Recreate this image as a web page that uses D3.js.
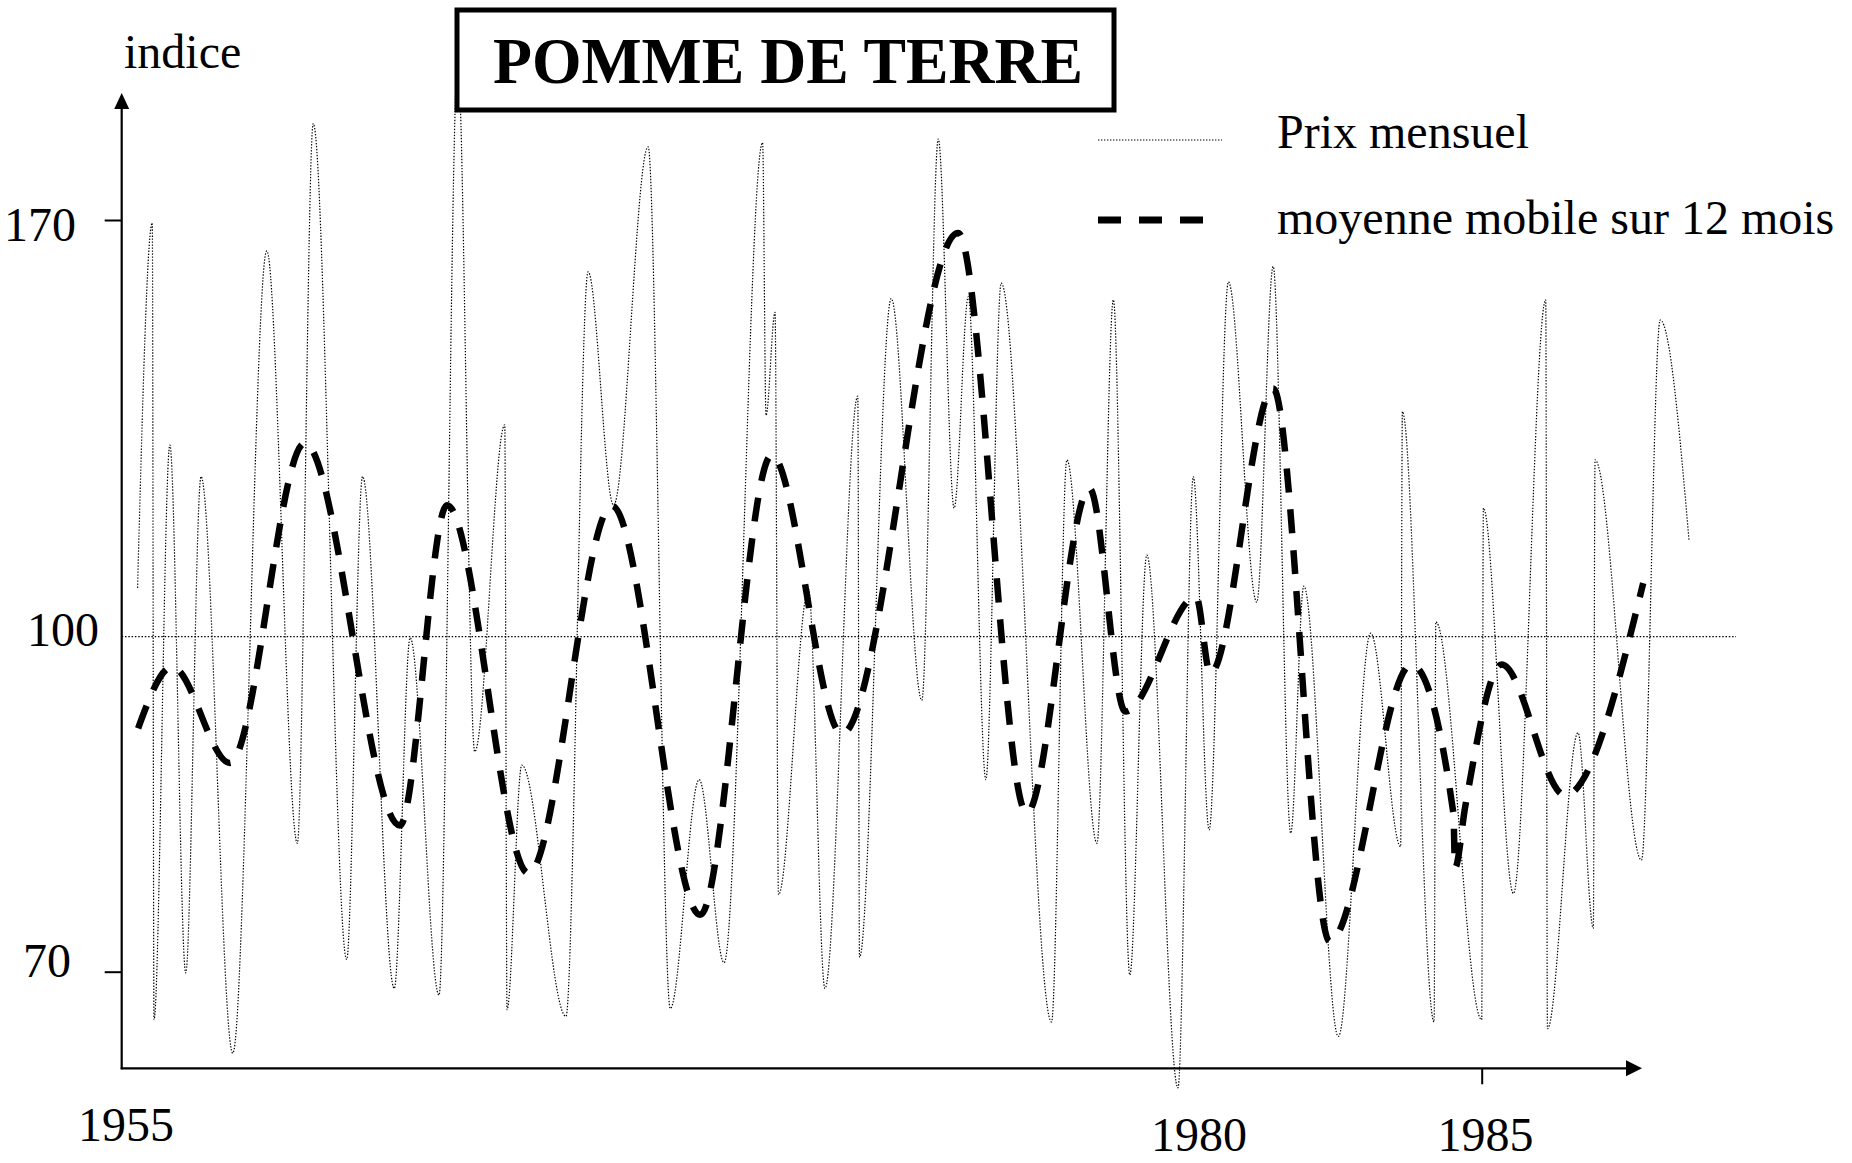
<!DOCTYPE html>
<html>
<head>
<meta charset="utf-8">
<script src="https://cdn.jsdelivr.net/npm/d3@7"></script>
<style>
  body { margin: 0; background: #fff; }
  svg { display: block; }
  text { font-family: "Liberation Serif", "Times New Roman", serif; fill: #000; }
</style>
</head>
<body>
<svg id="chart" width="1852" height="1163"></svg>
<script>
// Prix mensuel (indice) - turning points
const priceYears = [1961.28, 1961.54, 1961.57, 1961.85, 1962.13, 1962.40, 1962.96, 1963.56, 1964.10, 1964.38,
    1964.97, 1965.25, 1965.81, 1966.09, 1966.60, 1966.93, 1967.23, 1967.76, 1967.80, 1968.06,
    1968.84, 1969.23, 1969.68, 1970.29, 1970.68, 1971.19, 1971.63, 1972.31, 1972.37, 1972.53,
    1972.59, 1973.12, 1973.41, 1973.99, 1974.02, 1974.58, 1975.12, 1975.41, 1975.69, 1975.94,
    1976.25, 1976.52, 1977.41, 1977.68, 1978.21, 1978.50, 1978.79, 1979.09, 1979.64, 1979.91,
    1980.19, 1980.53, 1981.03, 1981.32, 1981.63, 1981.86, 1982.47, 1983.04, 1983.57, 1983.60,
    1984.16, 1984.19, 1985.00, 1985.03, 1985.56, 1986.13, 1986.16, 1986.70, 1986.97, 1987.00,
    1987.82, 1988.15, 1988.66];
const priceValues = [108.2, 169.5, 65.7, 132.2, 69.9, 126.9, 62.7, 164.8, 81.5, 186.2,
    71.1, 126.9, 68.5, 99.9, 67.9, 197, 89.7, 135.6, 66.6, 88.5,
    66.0, 161.3, 122.1, 182.3, 66.7, 87.2, 70.8, 183.0, 137.2, 154.5,
    76.9, 108.0, 68.5, 140.4, 71.3, 156.8, 94.3, 183.6, 121.6, 157.1,
    87.2, 159.4, 65.5, 129.7, 81.5, 156.6, 69.7, 113.7, 59.6, 126.9,
    82.7, 159.6, 105.8, 162.2, 82.4, 108.5, 64.2, 100.6, 81.2, 137.8,
    65.5, 102.5, 65.7, 121.6, 77.0, 156.6, 64.9, 91.4, 73.9, 129.7,
    80.0, 153.2, 116.1];

// moyenne mobile sur 12 mois
const avgYears = [1961.29, 1961.89, 1962.91, 1964.23, 1965.91, 1966.74, 1968.18, 1969.65, 1971.21, 1972.47,
    1973.71, 1975.76, 1976.97, 1978.08, 1978.71, 1979.96, 1980.21, 1981.32, 1982.32, 1983.76,
    1984.50, 1984.53, 1984.71, 1985.35, 1986.47, 1987.85];
const avgValues = [91.8, 97.3, 88.7, 132.5, 83.1, 122.1, 78.8, 122.0, 75.1, 130.5,
    91.3, 167.8, 84.2, 124.9, 93.3, 106.7, 96.7, 141.7, 72.7, 97.5,
    84.2, 79.3, 84.8, 97.5, 85.8, 109.0];

const yTickValues = [70, 100, 170];
const xTickValues = [1961, 1980, 1985];
const xTickLabels = ["1955", "1980", "1985"];
const legendLabels = ["Prix mensuel", "moyenne mobile sur 12 mois"];
const titleText = "POMME DE TERRE";
const yAxisTitle = "indice";

// layout
const FONT = 48;
const originY = 1068.3;
const x = d3.scaleLinear().domain([1961, 1985]).range([121.7, 1481.7]);
// the printed scale is not uniform: 70-100 is wider than 100-170
const y = d3.scaleLinear().domain([70, 100, 170]).range([971.7, 636.7, 220]);
const originX = x(1961);

// where each printed tick label sits (right edge / baseline)
const yLabelRight = { 170: 76, 100: 99, 70: 71 };
const yLabelBase = { 170: 240, 100: 645, 70: 976 };
const xLabelCenter = { 1961: 125.5, 1980: 1198.4, 1985: 1485 };
const xLabelBase = { 1961: 1141, 1980: 1151, 1985: 1151 };

const svg = d3.select("#chart");

// reference line at 100
svg.append("line")
    .attr("x1", originX)
    .attr("x2", 1736)
    .attr("y1", y(100))
    .attr("y2", y(100))
    .attr("stroke", "#000")
    .attr("stroke-width", 1.3)
    .attr("stroke-dasharray", "1.5,1.8");

const line = d3.line()
    .x(d => x(d[0]))
    .y(d => y(d[1]))
    .curve(d3.curveMonotoneX);

// monthly price
svg.append("path")
    .datum(d3.zip(priceYears, priceValues))
    .attr("d", line)
    .attr("fill", "none")
    .attr("stroke", "#000")
    .attr("stroke-width", 1.2)
    .attr("stroke-dasharray", "1.4,1.6");

// moving average
svg.append("path")
    .datum(d3.zip(avgYears, avgValues))
    .attr("d", line)
    .attr("fill", "none")
    .attr("stroke", "#000")
    .attr("stroke-width", 6.5)
    .attr("stroke-dasharray", "24,17");

// y axis
const gy = svg.append("g")
    .attr("transform", `translate(${originX},0)`)
    .call(d3.axisLeft(y).tickValues(yTickValues).tickSize(17).tickFormat(d3.format("d")));
gy.select(".domain").remove();
gy.selectAll(".tick line")
    .attr("stroke", "#000")
    .attr("stroke-width", 2)
    .attr("opacity", d => d === 100 ? 0 : 1);
gy.selectAll(".tick text")
    .attr("font-size", FONT)
    .attr("text-anchor", "end")
    .attr("x", d => yLabelRight[d] - originX)
    .attr("y", d => yLabelBase[d] - y(d))
    .attr("dy", 0);

// x axis
const gx = svg.append("g")
    .attr("transform", `translate(0,${originY})`)
    .call(d3.axisBottom(x).tickValues(xTickValues).tickSize(16).tickFormat((d, i) => xTickLabels[i]));
gx.select(".domain").remove();
gx.selectAll(".tick line")
    .attr("stroke", "#000")
    .attr("stroke-width", 2)
    .attr("opacity", d => d === 1985 ? 1 : 0);
gx.selectAll(".tick text")
    .attr("font-size", FONT)
    .attr("text-anchor", "middle")
    .attr("x", d => xLabelCenter[d] - x(d))
    .attr("y", d => xLabelBase[d] - originY)
    .attr("dy", 0);

// axis lines with arrow heads
const axisEndX = 1642, axisTopY = 93;
svg.append("line")
    .attr("x1", originX).attr("y1", originY + 1)
    .attr("x2", originX).attr("y2", axisTopY + 14)
    .attr("stroke", "#000").attr("stroke-width", 2.2);
svg.append("path")
    .attr("d", `M${originX},${axisTopY} L${originX - 7.5},${axisTopY + 16} L${originX + 7.5},${axisTopY + 16} Z`)
    .attr("fill", "#000");
svg.append("line")
    .attr("x1", originX - 1).attr("y1", originY)
    .attr("x2", axisEndX - 14).attr("y2", originY)
    .attr("stroke", "#000").attr("stroke-width", 2.2);
svg.append("path")
    .attr("d", `M${axisEndX},${originY} L${axisEndX - 16},${originY - 8} L${axisEndX - 16},${originY + 8} Z`)
    .attr("fill", "#000");

svg.append("text")
    .attr("x", 124)
    .attr("y", 68)
    .attr("font-size", FONT)
    .text(yAxisTitle);

// title box
svg.append("rect")
    .attr("x", 457)
    .attr("y", 10)
    .attr("width", 657)
    .attr("height", 100)
    .attr("fill", "#fff")
    .attr("stroke", "#000")
    .attr("stroke-width", 5);
svg.append("text")
    .attr("x", 788)
    .attr("y", 83)
    .attr("text-anchor", "middle")
    .attr("font-size", 66)
    .attr("font-weight", "bold")
    .attr("textLength", 590)
    .attr("lengthAdjust", "spacingAndGlyphs")
    .text(titleText);

// legend
const legend = svg.append("g");
const legendRows = [
    { y: 140, textY: 148, width: 1.2, dash: "1.4,1.6", x2: 1222 },
    { y: 220, textY: 234, width: 7, dash: "23,18", x2: 1205 }
];
legendRows.forEach((row, i) => {
    legend.append("line")
        .attr("x1", 1098).attr("x2", row.x2)
        .attr("y1", row.y).attr("y2", row.y)
        .attr("stroke", "#000")
        .attr("stroke-width", row.width)
        .attr("stroke-dasharray", row.dash);
    legend.append("text")
        .attr("x", 1277)
        .attr("y", row.textY)
        .attr("font-size", FONT)
        .text(legendLabels[i]);
});
</script>
</body>
</html>
